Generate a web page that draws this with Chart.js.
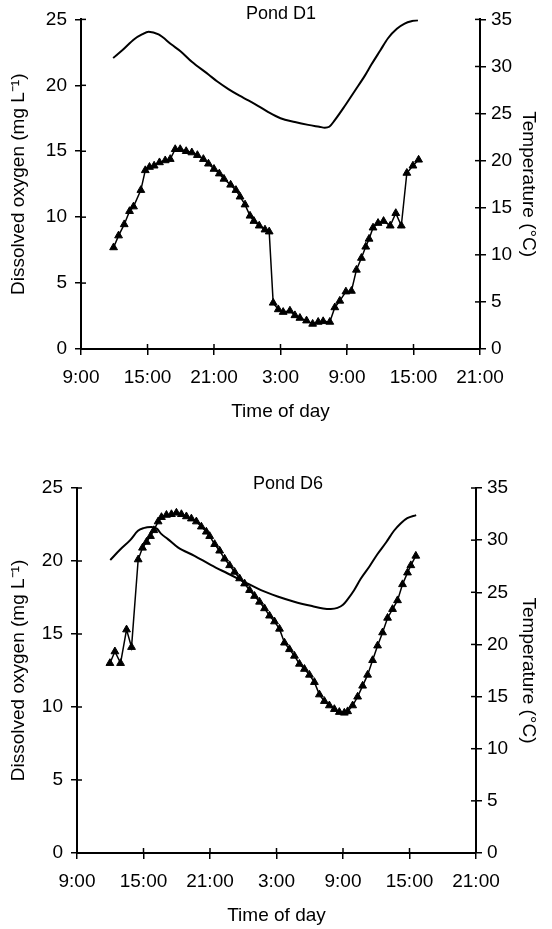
<!DOCTYPE html>
<html>
<head>
<meta charset="utf-8">
<script src="https://cdn.jsdelivr.net/npm/chart.js@4.4.0/dist/chart.umd.min.js"></script>
<style>
  body { margin: 0; background: #fff; width: 552px; height: 929px; position: relative; overflow: hidden;
         font-family: "Liberation Sans", Arial, sans-serif; }
  canvas { position: absolute; left: 0; }
  #c1 { top: 0; }
  #c2 { top: 440px; }
  .pond { position: absolute; font-size: 18px; color: #000; transform: translate(-50%, -50%); white-space: nowrap; }
</style>
</head>
<body>
<canvas id="c1" width="552" height="425"></canvas>
<canvas id="c2" width="552" height="489"></canvas>
<div class="pond" style="left:281px;top:13px">Pond D1</div>
<div class="pond" style="left:288px;top:483px">Pond D6</div>
<script>
// hours counted from midnight of day 1 (33 = 9:00 next day)
var timeLabels = ['9:00', '15:00', '21:00', '3:00', '9:00', '15:00', '21:00'];

// Pond D1 - dissolved oxygen (mg/L)
var d1Time = [11.94, 12.39, 12.9, 13.38, 13.74, 14.4, 14.8, 15.18, 15.6, 16.08, 16.6, 17.05, 17.5, 17.95, 18.49,
  19.0, 19.5, 20.04, 20.5, 21.0, 21.48, 21.9, 22.5, 22.98, 23.35, 23.8, 24.25, 24.6, 25.08, 25.6, 25.98,
  26.34, 26.8, 27.24, 27.85, 28.3, 28.75, 29.35, 29.9, 30.4, 30.85, 31.45, 31.9, 32.35, 32.9, 33.4, 33.85,
  34.3, 34.69, 34.99, 35.35, 35.8, 36.3, 36.9, 37.4, 37.9, 38.4, 38.95, 39.46];
var d1Oxygen = [7.7, 8.6, 9.45, 10.45, 10.8, 12.05, 13.55, 13.8, 13.9, 14.15, 14.3, 14.4, 15.15, 15.15, 15.0,
  14.9, 14.7, 14.4, 14.05, 13.65, 13.3, 12.9, 12.45, 12.05, 11.55, 10.95, 10.1, 9.7, 9.35, 9.05, 8.9,
  3.5, 3.0, 2.8, 2.9, 2.55, 2.35, 2.15, 1.9, 2.05, 2.1, 2.05, 3.15, 3.65, 4.35, 4.4, 6.0,
  6.9, 7.75, 8.35, 9.2, 9.55, 9.7, 9.35, 10.3, 9.35, 13.35, 13.9, 14.35];
// Pond D1 - water temperature (°C)
var d1TempTime = [11.9, 12.8, 13.8, 14.5, 15.1, 16.0, 17.2, 18.0, 19.0, 20.5, 21.3, 22.3, 23.3, 24.1, 25.0,
  25.9, 27.0, 28.3, 29.5, 30.5, 31.0, 31.4, 31.9, 32.8, 33.7, 34.6, 35.2, 36.0, 36.7, 37.5, 38.2, 38.8, 39.4];
var d1Temp = [30.9, 31.8, 32.9, 33.4, 33.7, 33.4, 32.3, 31.6, 30.5, 29.15, 28.4, 27.6, 26.9, 26.4, 25.8,
  25.15, 24.5, 24.1, 23.8, 23.6, 23.5, 23.6, 24.3, 25.8, 27.4, 29.0, 30.2, 31.7, 33.0, 34.0, 34.55, 34.8, 34.9];

// Pond D6 - dissolved oxygen (mg/L)
var d6Time = [11.97, 12.42, 12.93, 13.47, 13.92, 14.52, 14.91, 15.27, 15.63, 15.93, 16.32, 16.62, 17.07, 17.52,
  17.97, 18.42, 18.87, 19.32, 19.77, 20.22, 20.67, 20.97, 21.42, 21.87, 22.32, 22.77, 23.22, 23.67, 24.12,
  24.57, 25.02, 25.47, 25.92, 26.37, 26.82, 27.27, 27.72, 28.17, 28.62, 29.07, 29.52, 29.97, 30.42, 30.87,
  31.32, 31.77, 32.22, 32.67, 33.12, 33.42, 33.87, 34.32, 34.77, 35.22, 35.67, 36.12, 36.57, 37.02, 37.47,
  37.92, 38.37, 38.82, 39.12, 39.57];
var d6Oxygen = [13.0, 13.8, 13.0, 15.3, 14.1, 20.1, 20.9, 21.3, 21.7, 22.1, 22.7, 23.0, 23.15, 23.2,
  23.3, 23.2, 23.05, 22.9, 22.7, 22.35, 22.0, 21.7, 21.15, 20.7, 20.15, 19.7, 19.25, 18.8, 18.45,
  18.0, 17.6, 17.2, 16.75, 16.25, 15.85, 15.35, 14.4, 13.95, 13.5, 12.95, 12.6, 12.2, 11.7, 10.85,
  10.4, 10.1, 9.85, 9.65, 9.6, 9.7, 10.1, 10.7, 11.45, 12.2, 13.2, 14.2, 15.1, 16.1, 16.7,
  17.3, 18.4, 19.2, 19.7, 20.35];
// Pond D6 - water temperature (°C)
var d6TempTime = [12.0, 12.9, 13.8, 14.5, 15.0, 15.7, 16.2, 16.6, 17.2, 18.1, 19.6, 21.1, 22.6, 24.1, 25.6,
  27.1, 28.6, 30.1, 31.2, 31.9, 32.5, 33.0, 33.4, 34.0, 34.6, 35.4, 36.1, 36.9, 37.6, 38.2, 38.8, 39.6];
var d6Temp = [28.1, 29.1, 30.0, 30.9, 31.15, 31.25, 31.1, 30.6, 30.1, 29.3, 28.5, 27.6, 26.8, 26.0, 25.2,
  24.6, 24.1, 23.7, 23.45, 23.4, 23.5, 23.8, 24.3, 25.2, 26.3, 27.5, 28.65, 29.8, 30.9, 31.6, 32.1, 32.4];

Chart.defaults.font.family = '"Liberation Sans", Arial, sans-serif';
Chart.defaults.font.size = 19;
Chart.defaults.color = '#000';

function pts(xs, ys) {
  var out = [];
  for (var i = 0; i < xs.length; i++) out.push({x: xs[i], y: ys[i]});
  return out;
}

// ticks in the original cross the axis line, so draw the inner half too
var crossTicks = {
  id: 'crossTicks',
  afterDraw: function(chart) {
    var ctx = chart.ctx, a = chart.chartArea;
    ctx.save();
    ctx.strokeStyle = '#000';
    ctx.lineWidth = 1.5;
    Object.values(chart.scales).forEach(function(s) {
      s.ticks.forEach(function(t, i) {
        var p = s.getPixelForTick(i);
        ctx.beginPath();
        if (s.axis === 'x') { ctx.moveTo(p, a.bottom); ctx.lineTo(p, a.bottom - 5); }
        else if (s.position === 'left') { ctx.moveTo(a.left, p); ctx.lineTo(a.left + 5, p); }
        else { ctx.moveTo(a.right, p); ctx.lineTo(a.right - 5, p); }
        ctx.stroke();
      });
    });
    ctx.restore();
  }
};

function makeChart(id, oxT, oxV, tT, tV, box) {
  var axisGrid = { drawOnChartArea: false, color: '#000', lineWidth: 1.5, tickLength: 6 };
  var axisBorder = { color: '#000', width: 2 };
  return new Chart(document.getElementById(id), {
    type: 'line',
    data: {
      datasets: [
        {
          label: 'Dissolved oxygen',
          data: pts(oxT, oxV),
          yAxisID: 'yDO',
          borderColor: '#000',
          borderWidth: 1.5,
          pointStyle: 'triangle',
          pointRadius: 4.5,
          pointBackgroundColor: '#000',
          pointBorderColor: '#000',
          pointBorderWidth: 1,
          tension: 0
        },
        {
          label: 'Temperature',
          data: pts(tT, tV),
          yAxisID: 'yT',
          borderColor: '#000',
          borderWidth: 2,
          pointRadius: 0,
          cubicInterpolationMode: 'monotone'
        }
      ]
    },
    options: {
      responsive: false,
      animation: false,
      layout: { padding: { top: box.top, left: 0, right: 0, bottom: box.bottom } },
      plugins: { legend: { display: false }, tooltip: { enabled: false } },
      scales: {
        x: {
          type: 'linear',
          min: 9, max: 45,
          grid: axisGrid,
          border: axisBorder,
          ticks: {
            stepSize: 6, padding: 11, maxRotation: 0, autoSkip: false,
            callback: function(v, i) { return timeLabels[i]; }
          },
          title: { display: true, text: 'Time of day', padding: 0 },
          afterFit: function(s) { s.height = 74; }
        },
        yDO: {
          position: 'left',
          min: 0, max: 25,
          grid: axisGrid,
          border: axisBorder,
          ticks: { stepSize: 5, padding: 8 },
          title: { display: true, text: 'Dissolved oxygen (mg L⁻¹)', padding: { top: 7 } },
          afterFit: function(s) { s.width = box.left; }
        },
        yT: {
          position: 'right',
          min: 0, max: 35,
          grid: axisGrid,
          border: axisBorder,
          ticks: { stepSize: 5, padding: 5 },
          title: { display: true, text: 'Temperature (°C)', padding: { top: 12 } },
          afterFit: function(s) { s.width = box.right; }
        }
      }
    },
    plugins: [crossTicks]
  });
}

makeChart('c1', d1Time, d1Oxygen, d1TempTime, d1Temp, { top: 12, bottom: 2, left: 81, right: 72 });
makeChart('c2', d6Time, d6Oxygen, d6TempTime, d6Temp, { top: 48, bottom: 2, left: 77, right: 76 });
</script>
</body>
</html>
